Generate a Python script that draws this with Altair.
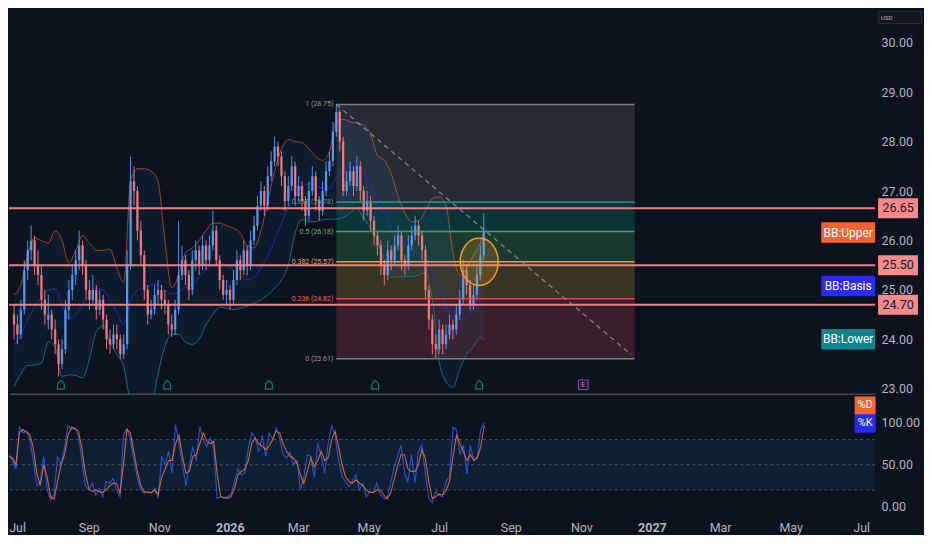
import altair as alt
import pandas as pd

# ---------------- data ----------------
candle_start = "2025-06-24"   # one candle every 3 days
opens = [24.5, 24.3, 24.1, 24.6, 25.4, 25.8, 26.0, 25.5, 25.3, 24.8,
         24.4, 24.5, 24.2, 23.9, 23.5, 23.8, 24.6, 25.0, 25.3, 25.6,
         25.9, 25.5, 25.0, 24.8, 25.0, 24.6, 24.8, 24.4, 24.0, 23.9,
         24.1, 24.0, 23.7, 23.9, 25.5, 27.2, 27.0, 26.2, 25.7, 25.0,
         24.5, 24.6, 24.9, 25.0, 24.8, 24.7, 24.3, 24.2, 24.6, 25.3,
         25.6, 25.3, 25.0, 25.6, 25.8, 25.5, 25.9, 25.6, 25.9, 26.2,
         25.6, 25.2, 24.9, 25.0, 24.8, 25.2, 25.6, 25.4, 25.8, 25.5,
         26.0, 26.3, 26.7, 27.0, 26.7, 27.3, 27.6, 27.9, 27.7, 27.3,
         26.8, 27.1, 27.5, 26.9, 27.1, 26.8, 26.5, 27.0, 27.3, 26.8,
         26.6, 27.0, 27.4, 27.6, 28.2, 28.6, 28.0, 27.0, 27.2, 27.4,
         27.1, 27.5, 27.0, 26.6, 26.8, 26.4, 26.1, 25.9, 25.5, 25.3,
         25.8, 25.6, 25.9, 26.1, 25.6, 25.5, 25.9, 26.1, 26.3, 26.1,
         25.8, 25.0, 24.4, 23.9, 23.8, 24.2, 23.9, 24.1, 24.3, 24.2,
         24.5, 24.8, 25.4, 25.1, 24.7, 24.9, 25.3, 25.7]
highs = [24.7, 24.5, 24.8, 25.6, 26.0, 26.3, 26.1, 25.8, 25.5, 25.0,
         24.9, 24.6, 24.4, 24.0, 24.0, 24.8, 25.2, 25.5, 25.8, 26.2,
         26.0, 25.6, 25.2, 25.3, 25.1, 25.0, 24.9, 24.5, 24.2, 24.3,
         24.3, 24.1, 24.1, 25.8, 27.7, 27.5, 27.1, 26.4, 25.8, 25.1,
         24.8, 25.1, 25.2, 25.1, 25.0, 24.8, 24.5, 24.8, 26.4, 25.9,
         25.7, 25.4, 25.8, 26.0, 25.9, 26.1, 26.0, 26.1, 26.6, 26.3,
         25.7, 25.3, 25.2, 25.1, 25.4, 25.8, 25.7, 26.0, 25.9, 26.2,
         26.5, 26.9, 27.2, 27.1, 27.5, 27.8, 28.1, 28.0, 27.8, 27.4,
         27.3, 27.7, 27.6, 27.3, 27.2, 26.9, 27.2, 27.5, 27.4, 26.9,
         27.2, 27.6, 27.8, 28.4, 28.75, 28.65, 28.1, 27.4, 27.6, 27.5,
         27.7, 27.6, 27.1, 27.0, 26.9, 26.5, 26.2, 26.0, 25.6, 26.0,
         25.9, 26.1, 26.3, 26.2, 25.7, 26.1, 26.3, 26.5, 26.4, 26.2,
         25.9, 25.1, 24.5, 24.1, 24.4, 24.3, 24.3, 24.5, 24.4, 24.7,
         25.0, 25.6, 25.5, 25.2, 25.1, 25.5, 25.9, 26.55]
lows = [24.0, 23.9, 24.0, 24.5, 25.2, 25.6, 25.3, 25.1, 24.6, 24.3,
        24.2, 24.0, 23.7, 23.25, 23.4, 23.7, 24.4, 24.8, 25.1, 25.4,
        25.3, 24.8, 24.6, 24.7, 24.4, 24.5, 24.2, 23.8, 23.7, 23.8,
        23.8, 23.6, 23.6, 23.8, 25.4, 26.7, 26.0, 25.5, 24.8, 24.3,
        24.4, 24.5, 24.7, 24.6, 24.5, 24.1, 24.05, 24.1, 24.5, 25.2,
        25.1, 24.8, 24.9, 25.4, 25.3, 25.4, 25.4, 25.5, 25.8, 25.5,
        25.0, 24.8, 24.7, 24.6, 24.7, 25.1, 25.2, 25.3, 25.3, 25.4,
        25.9, 26.2, 26.6, 26.5, 26.6, 27.2, 27.5, 27.5, 27.1, 26.6,
        26.7, 27.0, 26.7, 26.8, 26.6, 26.3, 26.4, 26.9, 26.6, 26.4,
        26.5, 26.9, 27.3, 27.5, 28.1, 27.8, 26.9, 26.9, 27.1, 26.9,
        27.0, 26.8, 26.4, 26.5, 26.2, 25.9, 25.7, 25.3, 25.1, 25.2,
        25.4, 25.5, 25.8, 25.4, 25.3, 25.4, 25.8, 26.0, 25.9, 25.6,
        24.8, 24.2, 23.7, 23.61, 23.7, 23.7, 23.8, 24.0, 24.0, 24.1,
        24.4, 24.7, 24.9, 24.6, 24.6, 24.8, 25.2, 25.6]
closes = [24.3, 24.1, 24.6, 25.4, 25.8, 26.0, 25.5, 25.3, 24.8, 24.5,
          24.5, 24.2, 23.9, 23.5, 23.8, 24.6, 25.0, 25.3, 25.6, 25.9,
          25.5, 25.0, 24.8, 25.0, 24.6, 24.8, 24.4, 24.0, 23.9, 24.1,
          24.0, 23.7, 23.9, 25.5, 27.2, 27.0, 26.2, 25.7, 25.0, 24.5,
          24.6, 24.9, 25.0, 24.8, 24.7, 24.3, 24.2, 24.6, 25.3, 25.6,
          25.3, 25.0, 25.6, 25.8, 25.5, 25.9, 25.6, 25.9, 26.2, 25.6,
          25.2, 24.9, 25.0, 24.8, 25.2, 25.6, 25.4, 25.8, 25.5, 26.0,
          26.3, 26.7, 27.0, 26.7, 27.3, 27.6, 27.9, 27.7, 27.3, 26.8,
          27.1, 27.5, 26.9, 27.1, 26.8, 26.5, 27.0, 27.3, 26.8, 26.6,
          27.0, 27.4, 27.6, 28.2, 28.6, 28.0, 27.0, 27.2, 27.4, 27.1,
          27.5, 27.0, 26.6, 26.8, 26.4, 26.1, 25.9, 25.5, 25.3, 25.8,
          25.6, 25.9, 26.1, 25.6, 25.5, 25.9, 26.1, 26.3, 26.1, 25.8,
          25.0, 24.4, 23.9, 23.8, 24.2, 23.9, 24.1, 24.3, 24.2, 24.5,
          24.8, 25.4, 25.1, 24.7, 24.9, 25.3, 25.7, 26.2]

# Bollinger bands, read on every second candle plus the last one
bb_upper = [24.9, 25.1, 25.7, 26.05, 26.0, 25.95, 26.2, 26.0, 25.55, 25.8,
            26.1, 25.95, 25.8, 25.8, 25.82, 25.45, 25.15, 27.2, 27.45, 27.45,
            27.4, 27.2, 26.0, 25.05, 25.3, 25.75, 25.85, 26.0, 26.2, 26.35,
            26.35, 26.3, 26.25, 26.15, 25.9, 25.85, 26.2, 26.8, 27.4, 27.85,
            28.04, 28.0, 27.98, 27.85, 27.7, 27.62, 27.8, 28.4, 28.45, 28.4,
            28.38, 28.33, 28.15, 27.72, 27.62, 27.35, 26.9, 26.55, 26.38, 26.4,
            26.6, 26.85, 26.88, 26.7, 25.75, 25.3, 25.45, 25.7, 25.95, 26.16]
bb_basis = [23.88, 24.1, 24.4, 24.65, 24.85, 25.0, 25.02, 24.7, 24.42, 24.5,
            24.7, 24.9, 25.03, 25.0, 24.8, 24.55, 24.3, 24.8, 24.98, 25.06,
            25.1, 25.12, 25.0, 24.92, 24.95, 25.05, 25.12, 25.25, 25.42, 25.5,
            25.55, 25.5, 25.4, 25.28, 25.2, 25.25, 25.45, 25.68, 26.0, 26.35,
            26.65, 26.9, 27.1, 27.15, 27.12, 27.05, 27.05, 27.28, 27.4, 27.5,
            27.48, 27.4, 27.1, 26.85, 26.55, 26.25, 26.1, 25.95, 25.82, 25.75,
            25.7, 25.35, 25.0, 24.68, 24.45, 24.4, 24.45, 24.68, 25.0, 25.08]
bb_lower = [23.04, 23.3, 23.47, 23.48, 23.52, 23.95, 23.85, 23.25, 23.28, 23.27,
            23.22, 23.6, 24.15, 24.27, 23.95, 23.7, 23.45, 22.7, 22.35, 22.3,
            22.6, 23.3, 23.85, 24.1, 24.1, 23.94, 23.9, 24.0, 24.3, 24.5,
            24.65, 24.63, 24.6, 24.63, 24.67, 24.73, 24.8, 24.9, 25.03, 25.2,
            25.5, 26.15, 26.42, 26.38, 26.38, 26.42, 26.43, 26.43, 26.47, 26.55,
            26.65, 26.43, 26.25, 26.0, 25.6, 25.25, 25.26, 25.27, 25.27, 25.3,
            25.35, 24.8, 23.55, 23.15, 23.02, 23.4, 23.7, 23.85, 24.04, 24.0]

stoch_k = [62, 55, 45, 95, 88, 90, 80, 55, 25, 30,
           60, 20, 8, 15, 60, 50, 70, 97, 92, 94,
           85, 55, 25, 20, 28, 14, 22, 12, 30, 28,
           34, 20, 12, 85, 93, 80, 55, 35, 20, 16,
           18, 16, 22, 10, 60, 50, 66, 40, 98, 75,
           50, 25, 50, 72, 55, 95, 80, 72, 82, 70,
           10, 12, 10, 12, 15, 30, 45, 38, 40, 70,
           88, 82, 65, 85, 60, 88, 80, 94, 82, 62,
           58, 65, 50, 55, 20, 35, 62, 60, 35, 76,
           60, 40, 75, 96, 85, 55, 36, 30, 24, 30,
           38, 20, 28, 12, 18, 17, 28, 15, 10, 9,
           28, 47, 60, 73, 40, 30, 62, 28, 65, 74,
           40, 10, 5, 18, 14, 12, 30, 36, 95, 92,
           62, 73, 39, 73, 55, 60, 92, 100]
stoch_d = [60, 58, 50, 88, 92, 89, 86, 70, 40, 25,
           50, 35, 12, 9, 30, 50, 62, 85, 95, 93,
           90, 70, 40, 22, 18, 20, 18, 17, 20, 25,
           28, 28, 16, 50, 92, 88, 65, 42, 25, 18,
           17, 17, 20, 15, 35, 45, 55, 55, 75, 85,
           60, 40, 42, 60, 62, 75, 88, 78, 75, 78,
           40, 12, 11, 10, 12, 22, 38, 42, 45, 55,
           76, 82, 75, 72, 68, 72, 80, 90, 88, 75,
           66, 60, 58, 52, 38, 28, 42, 58, 48, 55,
           66, 55, 58, 80, 90, 72, 50, 36, 30, 28,
           32, 28, 25, 20, 17, 17, 20, 20, 14, 10,
           16, 32, 48, 62, 62, 45, 42, 42, 50, 68,
           58, 30, 10, 12, 15, 14, 20, 30, 60, 85,
           75, 65, 55, 62, 55, 58, 72, 97]

level_prices = [26.65, 25.50, 24.70]
fib_ratios = ["1", "0.618", "0.5", "0.382", "0.236", "0"]
fib_prices = [28.75, 26.78, 26.18, 25.57, 24.82, 23.61]
fib_start = "2026-04-02T00:00:00"
fib_end = "2026-12-19T00:00:00"
trend_dates = ["2026-04-02T00:00:00", "2026-12-16T00:00:00"]
trend_prices = [28.75, 23.69]
circle_dates = ["2026-08-05T00:00:00"]
circle_prices = [25.57]
dividend_dates = ["2025-08-04T00:00:00", "2025-11-05T00:00:00", "2026-02-02T00:00:00",
                  "2026-05-06T00:00:00", "2026-08-05T00:00:00"]
earnings_dates = ["2026-11-04T00:00:00"]
bb_names = ["BB:Upper", "BB:Basis", "BB:Lower"]
price_ticks = [23, 24, 25, 26, 27, 28, 29, 30]
stoch_ticks = [0, 50, 100]
stoch_bands = [80, 50, 20]

# ---------------- tables ----------------
n = len(closes)
dates = pd.date_range(candle_start, periods=n, freq="3D")
candles = pd.DataFrame({"date": dates, "open": opens, "high": highs,
                        "low": lows, "close": closes})
candles["dir"] = ["up" if c >= o else "down" for o, c in zip(opens, closes)]

bb_idx = list(range(0, n - 1, 2)) + [n - 1]
bb = pd.DataFrame({"date": dates[bb_idx], "upper": bb_upper,
                   "basis": bb_basis, "lower": bb_lower})
stoch = pd.DataFrame({"date": dates, "k": stoch_k, "d": stoch_d})

levels = pd.DataFrame({"price": level_prices,
                       "label": [f"{p:.2f}" for p in level_prices]})
fib = pd.DataFrame({"ratio": fib_ratios, "price": fib_prices,
                    "start": fib_start, "end": fib_end})
fib["label"] = [f"{r} ({p:.2f})" for r, p in zip(fib_ratios, fib_prices)]
fib_bands = pd.DataFrame({"band": fib_ratios[:-1], "top": fib_prices[:-1],
                          "bottom": fib_prices[1:], "start": fib_start, "end": fib_end})
trend = pd.DataFrame({"date": trend_dates, "price": trend_prices})
circle = pd.DataFrame({"date": circle_dates, "price": circle_prices})
divs = pd.DataFrame({"date": dividend_dates})
earn = pd.DataFrame({"date": earnings_dates, "t": ["E"]})
bb_tags = pd.DataFrame({"name": bb_names,
                        "price": [bb_upper[-1], bb_basis[-1], bb_lower[-1]]})
band_df = pd.DataFrame({"hi": [stoch_bands[0]], "lo": [stoch_bands[-1]]})
band_lines = pd.DataFrame({"v": stoch_bands})
k_tag = pd.DataFrame({"v": [stoch_k[-1]], "t": ["%K"]})
d_tag = pd.DataFrame({"v": [stoch_d[-1]], "t": ["%D"]})
usd = pd.DataFrame({"t": ["USD"]})

# ---------------- styles ----------------
BG = "#0d121f"
W, H1, H2 = 868, 386, 117
FONT = "Roboto"
LBL = "#b2b5be"
UP, DOWN = "#5b9cf6", "#f77c80"
TAG = "#f7888b"
RECT = "M-1,-0.5H1V0.5H-1Z"
ELLIPSE = "M-0.8,0A0.8,1,0,1,0,0.8,0A0.8,1,0,1,0,-0.8,0Z"
HOUSE = "M-0.75,1V-0.25L0,-1L0.75,-0.25V1Z"

xscale = alt.Scale(domain=[alt.DateTime(year=2025, month=6, date=24),
                           alt.DateTime(year=2027, month=7, date=13)])
main_xaxis = alt.Axis(labels=False, ticks=False, grid=False, domain=True,
                      domainColor="#434651", domainWidth=1.5, title=None)
stoch_xaxis = alt.Axis(
    tickCount={"interval": "month", "step": 2},
    labelExpr="month(datum.value) == 0 ? timeFormat(datum.value, '%Y') : timeFormat(datum.value, '%b')",
    labelFontWeight={"condition": {"test": "month(datum.value) == 0", "value": "bold"}, "value": "normal"},
    ticks=False, grid=False, domain=False, labelColor=LBL, labelFontSize=12.5,
    labelPadding=8, title=None)
yscale = alt.Scale(domain=[22.9, 30.69], nice=False, zero=False)
yaxis = alt.Axis(orient="right", values=price_ticks, format=".2f", ticks=False,
                 domain=False, grid=False, labelColor=LBL, labelFontSize=12.5,
                 labelPadding=6, title=None)
syscale = alt.Scale(domain=[-8, 131], nice=False, zero=False)
syaxis = alt.Axis(orient="right", values=stoch_ticks, format=".2f", ticks=False,
                  domain=False, grid=False, labelColor=LBL, labelFontSize=12.5,
                  labelPadding=6, title=None)


def MX(f="date"):
    return alt.X(f"{f}:T", scale=xscale, axis=main_xaxis, title=None)


def SX(f="date"):
    return alt.X(f"{f}:T", scale=xscale, axis=stoch_xaxis, title=None)


def MY(f):
    return alt.Y(f"{f}:Q", scale=yscale, axis=yaxis, title=None)


def SY(f):
    return alt.Y(f"{f}:Q", scale=syscale, axis=syaxis, title=None)


fib_band_colors = ["#262a36", "#0c3438", "#1a392f", "#393321", "#3a1e2b"]
fib_line_colors = ["#787b86", "#1d9c8c", "#43a05c", "#f29a2a", "#e0474f", "#787b86"]
fib_text_colors = ["#9598a1", "#3aa597", "#6fb07f", "#f2a23c", "#e86a6f", "#9598a1"]

# ---------------- main panel ----------------
l_fib_bands = alt.Chart(fib_bands).mark_rect().encode(
    x=MX("start"), x2="end:T", y=MY("top"), y2="bottom:Q",
    color=alt.Color("band:N", scale=alt.Scale(domain=fib_ratios[:-1], range=fib_band_colors), legend=None))

l_bb_area = alt.Chart(bb).mark_area(color="#2196f3", opacity=0.07, interpolate="monotone", clip=True).encode(
    x=MX(), y=MY("upper"), y2="lower:Q")
l_up = alt.Chart(bb).mark_line(color="#f26430", opacity=0.6, strokeWidth=1, interpolate="monotone", clip=True).encode(
    x=MX(), y=MY("upper"))
l_basis = alt.Chart(bb).mark_line(color="#2b2bf0", opacity=0.75, strokeWidth=1, interpolate="monotone", clip=True).encode(
    x=MX(), y=MY("basis"))
l_low = alt.Chart(bb).mark_line(color="#0c8590", opacity=0.8, strokeWidth=1, interpolate="monotone", clip=True).encode(
    x=MX(), y=MY("lower"))

dir_color = alt.Color("dir:N", scale=alt.Scale(domain=["up", "down"], range=[UP, DOWN]), legend=None)
l_wick = alt.Chart(candles).mark_rule(strokeWidth=1, opacity=0.9, clip=True).encode(
    x=MX(), y=MY("low"), y2="high:Q", color=dir_color)
l_body = alt.Chart(candles).mark_bar(width=2.3, opacity=0.9, clip=True).encode(
    x=MX(), y=MY("open"), y2="close:Q", color=dir_color)

l_levels = alt.Chart(levels).mark_rule(color=TAG, strokeWidth=2, opacity=0.95).encode(y=MY("price"))

l_fib_lines = alt.Chart(fib).mark_rule(strokeWidth=1.5).encode(
    x=MX("start"), x2="end:T", y=MY("price"),
    color=alt.Color("ratio:N", scale=alt.Scale(domain=fib_ratios, range=fib_line_colors), legend=None))
l_fib_text = alt.Chart(fib).mark_text(align="right", baseline="middle", dx=-3, fontSize=7, font=FONT).encode(
    x=MX("start"), y=MY("price"), text="label:N",
    color=alt.Color("ratio:N", scale=alt.Scale(domain=fib_ratios, range=fib_text_colors), legend=None))

l_trend = alt.Chart(trend).mark_line(color="#9598a1", strokeDash=[5, 4], strokeWidth=1.3, opacity=0.8).encode(
    x=MX(), y=MY("price"))
l_circle = alt.Chart(circle).mark_point(shape=ELLIPSE, size=2266, filled=True, fill="#f5a623",
                                        fillOpacity=0.2, stroke="#f29b1f", strokeWidth=1.5, opacity=1).encode(
    x=MX(), y=MY("price"))

l_divs = alt.Chart(divs).mark_point(shape=HOUSE, size=80, filled=True, fill=BG, stroke="#0f7d70",
                                    strokeWidth=1.2, opacity=1).encode(x=MX(), y=alt.value(H1 - 9))
l_earn = alt.Chart(earn).mark_point(shape="square", size=90, filled=True, fill="#1b1430", stroke="#8e44ad",
                                    strokeWidth=1.2, opacity=1).encode(x=MX(), y=alt.value(H1 - 9))
l_earn_t = alt.Chart(earn).mark_text(fontSize=7, color="#c39bd3", font=FONT, baseline="middle").encode(
    x=MX(), y=alt.value(H1 - 9), text="t:N")

l_bb_box = alt.Chart(bb_tags).mark_point(shape="M-1,-0.38H1V0.38H-1Z", size=54 * 54, filled=True, opacity=1).encode(
    x=alt.value(W - 27), y=MY("price"),
    color=alt.Color("name:N", scale=alt.Scale(domain=bb_names, range=["#f4632e", "#2b2bf0", "#0c8590"]), legend=None))
l_bb_text = alt.Chart(bb_tags).mark_text(color="white", fontSize=12, font=FONT, baseline="middle").encode(
    x=alt.value(W - 27), y=MY("price"), text="name:N")

l_tag_box = alt.Chart(levels).mark_point(shape=RECT, size=40 * 40, filled=True, color=TAG, opacity=1).encode(
    x=alt.value(W + 23), y=MY("price"))
l_tag_text = alt.Chart(levels).mark_text(color="#131722", fontSize=12.5, font=FONT, baseline="middle").encode(
    x=alt.value(W + 23), y=MY("price"), text="label:N")

l_usd_box = alt.Chart(usd).mark_point(shape="M-1,-0.28H1V0.28H-1Z", size=43 * 43, filled=True, fill="#131722",
                                      stroke="#2a2e39", strokeWidth=1, opacity=1).encode(
    x=alt.value(W + 25), y=alt.value(9))
l_usd_text = alt.Chart(usd).mark_text(color=LBL, fontSize=6, font=FONT, baseline="middle", align="left").encode(
    x=alt.value(W + 6), y=alt.value(9), text="t:N")

main = alt.layer(
    l_fib_bands, l_bb_area, l_up, l_basis, l_low, l_wick, l_body, l_levels,
    l_fib_lines, l_fib_text, l_trend, l_circle, l_divs, l_earn, l_earn_t,
    l_bb_box, l_bb_text, l_tag_box, l_tag_text, l_usd_box, l_usd_text
).resolve_scale(color="independent").properties(width=W, height=H1)

# ---------------- stochastic panel ----------------
s_band = alt.Chart(band_df).mark_rect(color="#2196f3", opacity=0.1).encode(
    x=alt.value(0), x2=alt.value(W), y=SY("hi"), y2="lo:Q")
s_lines = alt.Chart(band_lines).mark_rule(color="#787b86", strokeDash=[3, 3], opacity=0.55, strokeWidth=1).encode(
    y=SY("v"))
s_k = alt.Chart(stoch).mark_line(color="#2962ff", strokeWidth=1.1, opacity=0.8, clip=True).encode(
    x=SX(), y=SY("k"))
s_d = alt.Chart(stoch).mark_line(color="#f7712f", strokeWidth=1.1, opacity=0.85, clip=True).encode(
    x=SX(), y=SY("d"))
s_k_box = alt.Chart(k_tag).mark_point(shape="M-1,-0.95H1V0.95H-1Z", size=21 * 21, filled=True,
                                      color="#2b2bf0", opacity=1).encode(x=alt.value(W - 10), y=SY("v"))
s_k_text = alt.Chart(k_tag).mark_text(color="white", fontSize=11, font=FONT, baseline="middle").encode(
    x=alt.value(W - 10), y=SY("v"), text="t:N")
s_d_box = alt.Chart(d_tag).mark_point(shape="M-1,-0.85H1V0.85H-1Z", size=21 * 21, filled=True,
                                      color="#f4632e", opacity=1, yOffset=-20).encode(x=alt.value(W - 10), y=SY("v"))
s_d_text = alt.Chart(d_tag).mark_text(color="white", fontSize=11, font=FONT, baseline="middle", yOffset=-20).encode(
    x=alt.value(W - 10), y=SY("v"), text="t:N")

stoch_panel = alt.layer(
    s_band, s_lines, s_k, s_d, s_k_box, s_k_text, s_d_box, s_d_text
).properties(width=W, height=H2)

chart = alt.vconcat(main, stoch_panel, spacing=0).properties(
    background=BG, padding=0
).configure_view(stroke=None).configure_axis(labelFont=FONT)

chart.save("out.html", embed_options={"renderer": "svg", "actions": False})
